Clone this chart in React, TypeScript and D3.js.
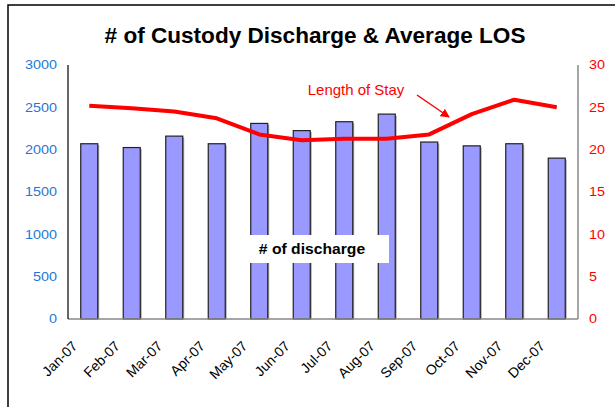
import React from "react";
import * as d3 from "d3";

// months on the x axis
const months = ["Jan-07", "Feb-07", "Mar-07", "Apr-07", "May-07", "Jun-07", "Jul-07", "Aug-07", "Sep-07", "Oct-07", "Nov-07", "Dec-07"];
// number of custody discharges (left axis)
const discharges = [2070, 2025, 2160, 2070, 2310, 2225, 2330, 2420, 2090, 2045, 2070, 1900];
// average length of stay (right axis)
const los = [25.2, 24.9, 24.5, 23.7, 21.8, 21.1, 21.3, 21.3, 21.8, 24.2, 25.9, 25.0];

const leftTicks = [0, 500, 1000, 1500, 2000, 2500, 3000];
const rightTicks = [0, 5, 10, 15, 20, 25, 30];

const width = 615;
const height = 407;
const margin = { top: 65, left: 68, right: 37, bottom: 88 };
const font = "'Liberation Sans', Arial, sans-serif";

const x = d3.scaleBand()
  .domain(months)
  .range([margin.left, width - margin.right])
  .paddingInner(0.6)
  .paddingOuter(0.3);

const yLeft = d3.scaleLinear().domain([0, 3000]).range([height - margin.bottom, margin.top]);
const yRight = d3.scaleLinear().domain([0, 30]).range([height - margin.bottom, margin.top]);

const line = d3.line<number>()
  .x((d, i) => x(months[i])! + x.bandwidth() / 2)
  .y((d) => yRight(d));

// text that is a bit wider than the font, like the original picture
function WideText(props: { x: number; y: number; sx: number; anchor: string; size: number; fill: string; bold?: boolean; dy?: string; children: React.ReactNode }) {
  return (
    <g transform={`translate(${props.x},${props.y}) scale(${props.sx},1)`}>
      <text textAnchor={props.anchor} dy={props.dy} fontSize={props.size} fontWeight={props.bold ? "bold" : "normal"} fill={props.fill}>
        {props.children}
      </text>
    </g>
  );
}

export default function App() {
  const plotBottom = height - margin.bottom;
  const plotRight = width - margin.right;
  return (
    <svg width={width} height={height} style={{ position: "absolute", left: 0, top: 0, background: "#fff" }} fontFamily={font}>
      {/* outer frame */}
      <rect x={8} y={5} width={640} height={440} fill="#fff" stroke="#000" strokeWidth={1.5} />

      <WideText x={315} y={43} sx={1.05} anchor="middle" size={21.5} fill="#000" bold>
        # of Custody Discharge &amp; Average LOS
      </WideText>

      {/* bars */}
      {discharges.map((d, i) => (
        <g key={months[i]}>
          <rect x={x(months[i])! + 1.5} y={yLeft(d) + 1.5} width={x.bandwidth()} height={plotBottom - yLeft(d) - 1.5} fill="#aaa" />
          <rect x={x(months[i])!} y={yLeft(d)} width={x.bandwidth()} height={plotBottom - yLeft(d)} fill="#9999ff" stroke="#222" strokeWidth={1.2} />
        </g>
      ))}

      {/* axes lines */}
      <line x1={margin.left} x2={plotRight} y1={plotBottom} y2={plotBottom} stroke="#888" strokeWidth={1.5} />
      <line x1={margin.left} x2={margin.left} y1={margin.top} y2={plotBottom} stroke="#000" strokeWidth={1.2} />
      <line x1={plotRight} x2={plotRight} y1={margin.top} y2={plotBottom} stroke="#888" strokeWidth={1.5} />

      {leftTicks.map((t) => (
        <WideText key={"l" + t} x={57} y={yLeft(t)} dy="0.35em" sx={1.15} anchor="end" size={12.5} fill="#1f78d6">{t}</WideText>
      ))}
      {rightTicks.map((t) => (
        <WideText key={"r" + t} x={589} y={yRight(t)} dy="0.35em" sx={1.15} anchor="start" size={12.5} fill="#ff0000">{t}</WideText>
      ))}

      {months.map((m) => {
        const cx = x(m)! + x.bandwidth() / 2;
        return (
          <text key={m} transform={`translate(${cx - 11},${plotBottom + 28}) rotate(-45)`} textAnchor="end" fontSize={14} fill="#000">{m}</text>
        );
      })}

      {/* LOS line */}
      <path d={line(los)!} fill="none" stroke="#ff0000" strokeWidth={4} strokeLinejoin="round" />

      <WideText x={356} y={95} sx={1.07} anchor="middle" size={14} fill="#ff0000">Length of Stay</WideText>
      <defs>
        <marker id="arr" viewBox="0 0 10 10" refX={9} refY={5} markerWidth={6} markerHeight={6} orient="auto">
          <path d="M0,0 L10,5 L0,10 z" fill="#ff0000" />
        </marker>
      </defs>
      <line x1={417} y1={95} x2={449} y2={117} stroke="#ff0000" strokeWidth={1.5} markerEnd="url(#arr)" />

      <rect x={250} y={235} width={139} height={28} fill="#fff" />
      <WideText x={312} y={254} sx={1.12} anchor="middle" size={14} fill="#000" bold># of discharge</WideText>
    </svg>
  );
}
